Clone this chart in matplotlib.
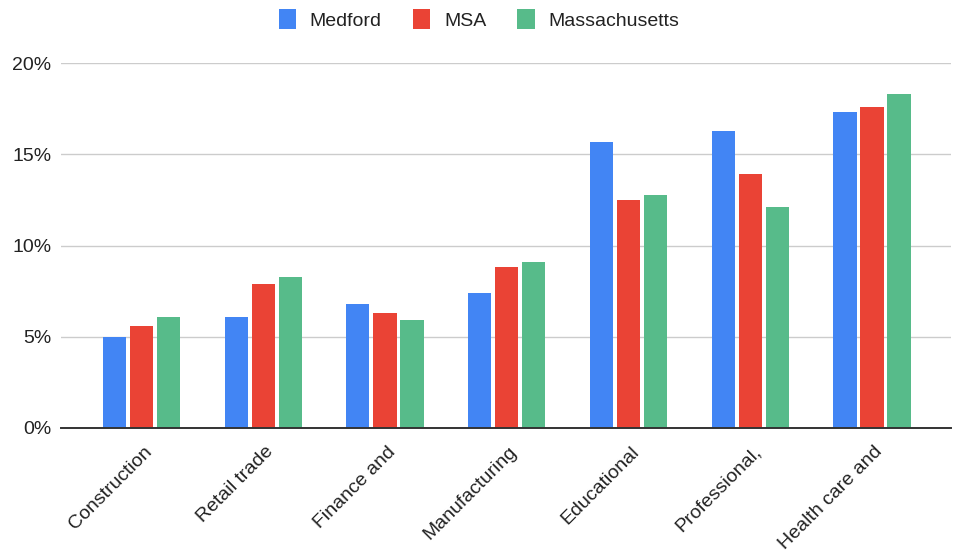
import numpy as np
import matplotlib.pyplot as plt
import matplotlib.transforms as mtransforms
from matplotlib.ticker import PercentFormatter

plt.rcParams['font.family'] = ['Liberation Sans', 'DejaVu Sans']

# Share of employment by industry
industries = ["Construction", "Retail trade", "Finance and", "Manufacturing",
              "Educational", "Professional,", "Health care and"]
medford = [5.0, 6.1, 6.8, 7.4, 15.7, 16.3, 17.3]
msa = [5.6, 7.9, 6.3, 8.8, 12.5, 13.9, 17.6]
massachusetts = [6.1, 8.3, 5.9, 9.1, 12.8, 12.1, 18.3]

series = [("Medford", medford, "#4285F4"),
          ("MSA", msa, "#EA4335"),
          ("Massachusetts", massachusetts, "#57BB8A")]

fig = plt.figure(figsize=(9.54, 5.55), dpi=100)
ax = fig.add_axes([0.064, 0.229, 0.933, 0.657])

x = np.arange(len(industries))
width = 0.19
step = 0.222
for i, (name, vals, color) in enumerate(series):
    ax.bar(x + (i - 1) * step, np.array(vals) / 100, width, color=color,
           label=name, zorder=3)

ax.set_xlim(-0.66, len(industries) - 0.35)
ax.set_ylim(0, 0.2)
ax.set_yticks([0, 0.05, 0.10, 0.15, 0.20])
ax.yaxis.set_major_formatter(PercentFormatter(1.0, decimals=0))
ax.grid(axis='y', color='#cccccc', linewidth=1, zorder=0)

for side in ['top', 'right', 'left']:
    ax.spines[side].set_visible(False)
ax.spines['bottom'].set_color('#333333')
ax.spines['bottom'].set_linewidth(1.4)
ax.spines['bottom'].set_zorder(4)

ax.tick_params(axis='both', length=0, labelsize=14, colors='#222222')
ax.tick_params(axis='y', pad=7)
ax.tick_params(axis='x', pad=11)
ax.set_xticks(x)
ax.set_xticklabels(industries, rotation=45, ha='right', va='top',
                   rotation_mode='anchor')
# nudge the slanted labels so they end just right of each group centre
shift = mtransforms.ScaledTranslation(0.02, 0, fig.dpi_scale_trans)
for lbl in ax.get_xticklabels():
    lbl.set_transform(lbl.get_transform() + shift)

fig.legend(loc='upper center', bbox_to_anchor=(0.502, 1.015), ncol=3,
           frameon=False, fontsize=14, handlelength=0.9, handleheight=1.2,
           handletextpad=0.7, columnspacing=1.6, labelcolor='#222222')

fig.savefig("out.png", dpi=100)
